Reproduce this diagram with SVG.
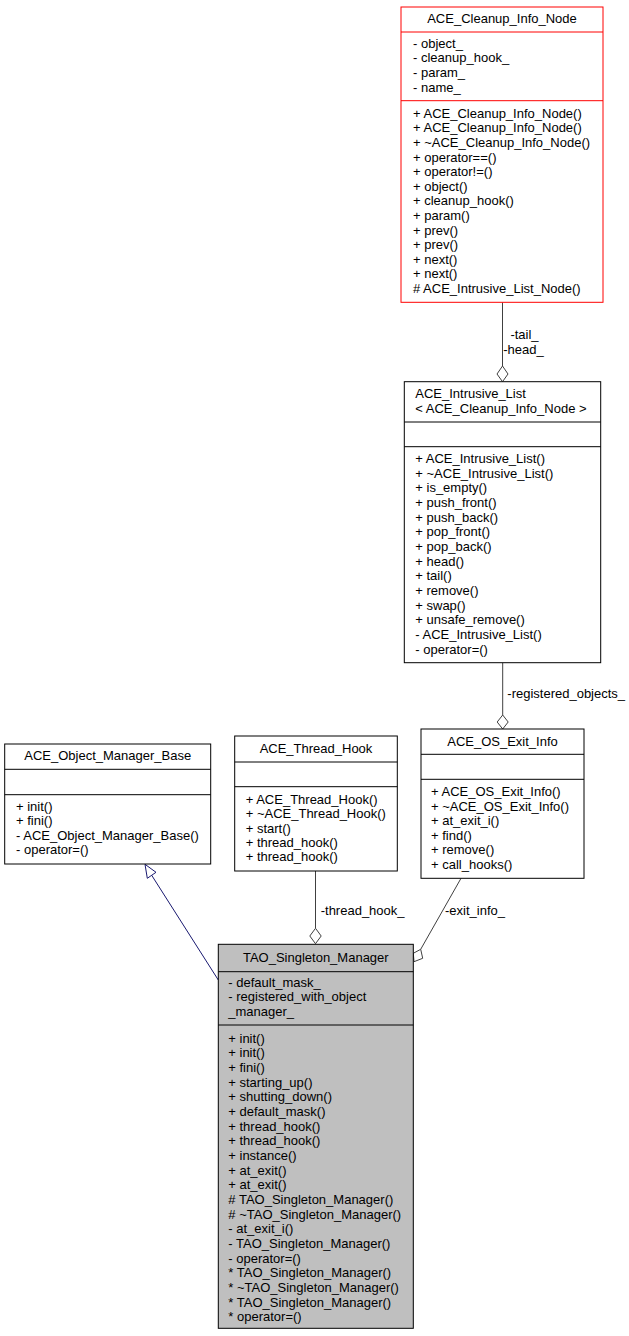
<svg xmlns="http://www.w3.org/2000/svg" width="629" height="1336" viewBox="0 0 629 1336">
<style>
text{font-family:"Liberation Sans",Arial,sans-serif;font-size:13px;fill:#000}
.t{text-anchor:middle}
.box{fill:#fff;stroke:#000;stroke-width:1}
.div{stroke:#000;stroke-width:1}
.red .box,.red .div{stroke:#ff0000}
.cur .box{fill:#bfbfbf}
.e{fill:none;stroke:#404040;stroke-width:1}
.ah{fill:#fff;stroke:#404040;stroke-width:1}
.inh{fill:none;stroke:#191970;stroke-width:1}
.inha{fill:#fff;stroke:#191970;stroke-width:1}
</style>
<rect width="629" height="1336" fill="#fff"/>
<g id="edges">
<line class="e" x1="502.5" y1="302.3" x2="502.5" y2="366"/>
<polygon class="ah" points="502.5,366 508,374 502.5,381.7 497,374"/>
<text x="524.5" y="338.8" class="t">-tail_</text>
<text x="523.5" y="353.5" class="t">-head_</text>
<line class="e" x1="502.7" y1="662.7" x2="502.7" y2="715"/>
<polygon class="ah" points="502.7,715 508.2,722 502.7,729 497.2,722"/>
<text x="507.3" y="697.8">-registered_objects_</text>
<line class="e" x1="315.5" y1="871" x2="315.5" y2="928.3"/>
<polygon class="ah" points="315.5,928.3 321.2,936 315.5,943.7 309.8,936"/>
<text x="320.7" y="915.2">-thread_hook_</text>
<line class="e" x1="461" y1="878.3" x2="420.7" y2="949.3"/>
<polygon class="ah" points="420.7,949.3 422.7,958.3 414,961.7 413.3,953.3"/>
<text x="445" y="915.2">-exit_info_</text>
<line class="inh" x1="218.3" y1="980" x2="151.7" y2="875.3"/>
<polygon class="inha" points="145,864.3 147.3,878.3 156,872.3"/>
</g>
<g id="ACE_Cleanup_Info_Node" class="red">
<rect class="box" x="401" y="7" width="202" height="295.3"/>
<line class="div" x1="401" y1="32" x2="603" y2="32"/>
<line class="div" x1="401" y1="100.7" x2="603" y2="100.7"/>
<text x="502" y="22.8" class="t">ACE_Cleanup_Info_Node</text>
<text x="413"><tspan x="413" y="47.8">- object_</tspan><tspan x="413" y="62.4">- cleanup_hook_</tspan><tspan x="413" y="77">- param_</tspan><tspan x="413" y="91.6">- name_</tspan></text>
<text x="413"><tspan x="413" y="117.8">+ ACE_Cleanup_Info_Node()</tspan><tspan x="413" y="132.4">+ ACE_Cleanup_Info_Node()</tspan><tspan x="413" y="147">+ ~ACE_Cleanup_Info_Node()</tspan><tspan x="413" y="161.6">+ operator==()</tspan><tspan x="413" y="176.2">+ operator!=()</tspan><tspan x="413" y="190.8">+ object()</tspan><tspan x="413" y="205.4">+ cleanup_hook()</tspan><tspan x="413" y="220">+ param()</tspan><tspan x="413" y="234.6">+ prev()</tspan><tspan x="413" y="249.2">+ prev()</tspan><tspan x="413" y="263.8">+ next()</tspan><tspan x="413" y="278.4">+ next()</tspan><tspan x="413" y="293">#  ACE_Intrusive_List_Node()</tspan></text>
</g>
<g id="ACE_Intrusive_List">
<rect class="box" x="404.3" y="381.7" width="196.4" height="281"/>
<line class="div" x1="404.3" y1="422" x2="600.7" y2="422"/>
<line class="div" x1="404.3" y1="446.7" x2="600.7" y2="446.7"/>
<text x="415.3"><tspan x="415.3" y="397.8">ACE_Intrusive_List</tspan><tspan x="415.3" y="412.8">&lt; ACE_Cleanup_Info_Node &gt;</tspan></text>
<text x="415.3"><tspan x="415.3" y="462.8">+ ACE_Intrusive_List()</tspan><tspan x="415.3" y="477.5">+ ~ACE_Intrusive_List()</tspan><tspan x="415.3" y="492.2">+ is_empty()</tspan><tspan x="415.3" y="506.9">+ push_front()</tspan><tspan x="415.3" y="521.6">+ push_back()</tspan><tspan x="415.3" y="536.2">+ pop_front()</tspan><tspan x="415.3" y="550.9">+ pop_back()</tspan><tspan x="415.3" y="565.6">+ head()</tspan><tspan x="415.3" y="580.3">+ tail()</tspan><tspan x="415.3" y="595">+ remove()</tspan><tspan x="415.3" y="609.7">+ swap()</tspan><tspan x="415.3" y="624.4">+ unsafe_remove()</tspan><tspan x="415.3" y="639.1">- ACE_Intrusive_List()</tspan><tspan x="415.3" y="653.8">- operator=()</tspan></text>
</g>
<g id="ACE_Object_Manager_Base">
<rect class="box" x="4.7" y="744" width="206" height="120"/>
<line class="div" x1="4.7" y1="769.3" x2="210.7" y2="769.3"/>
<line class="div" x1="4.7" y1="794.7" x2="210.7" y2="794.7"/>
<text x="107.7" y="759.5" class="t">ACE_Object_Manager_Base</text>
<text x="16"><tspan x="16" y="810.5">+ init()</tspan><tspan x="16" y="825.1">+ fini()</tspan><tspan x="16" y="839.8">- ACE_Object_Manager_Base()</tspan><tspan x="16" y="854.4">- operator=()</tspan></text>
</g>
<g id="ACE_Thread_Hook">
<rect class="box" x="234.7" y="736" width="162.6" height="135"/>
<line class="div" x1="234.7" y1="762" x2="397.3" y2="762"/>
<line class="div" x1="234.7" y1="786.7" x2="397.3" y2="786.7"/>
<text x="316" y="753.2" class="t">ACE_Thread_Hook</text>
<text x="245.7"><tspan x="245.7" y="803.8">+ ACE_Thread_Hook()</tspan><tspan x="245.7" y="818.2">+ ~ACE_Thread_Hook()</tspan><tspan x="245.7" y="832.6">+ start()</tspan><tspan x="245.7" y="847">+ thread_hook()</tspan><tspan x="245.7" y="861.4">+ thread_hook()</tspan></text>
</g>
<g id="ACE_OS_Exit_Info">
<rect class="box" x="421" y="729" width="163" height="149.3"/>
<line class="div" x1="421" y1="754.3" x2="584" y2="754.3"/>
<line class="div" x1="421" y1="779.3" x2="584" y2="779.3"/>
<text x="502.5" y="745.5" class="t">ACE_OS_Exit_Info</text>
<text x="431"><tspan x="431" y="796.2">+ ACE_OS_Exit_Info()</tspan><tspan x="431" y="810.7">+ ~ACE_OS_Exit_Info()</tspan><tspan x="431" y="825.1">+ at_exit_i()</tspan><tspan x="431" y="839.6">+ find()</tspan><tspan x="431" y="854.1">+ remove()</tspan><tspan x="431" y="868.6">+ call_hooks()</tspan></text>
</g>
<g id="TAO_Singleton_Manager" class="cur">
<rect class="box" x="218.3" y="944.3" width="195" height="384"/>
<line class="div" x1="218.3" y1="971.7" x2="413.3" y2="971.7"/>
<line class="div" x1="218.3" y1="1025" x2="413.3" y2="1025"/>
<text x="315.8" y="961.8" class="t">TAO_Singleton_Manager</text>
<text x="228.3"><tspan x="228.3" y="986.8">- default_mask_</tspan><tspan x="228.3" y="1001.3">- registered_with_object</tspan><tspan x="228.3" y="1015.8">_manager_</tspan></text>
<text x="228.3"><tspan x="228.3" y="1042.8">+ init()</tspan><tspan x="228.3" y="1057.45">+ init()</tspan><tspan x="228.3" y="1072.1">+ fini()</tspan><tspan x="228.3" y="1086.75">+ starting_up()</tspan><tspan x="228.3" y="1101.4">+ shutting_down()</tspan><tspan x="228.3" y="1116.05">+ default_mask()</tspan><tspan x="228.3" y="1130.7">+ thread_hook()</tspan><tspan x="228.3" y="1145.35">+ thread_hook()</tspan><tspan x="228.3" y="1160">+ instance()</tspan><tspan x="228.3" y="1174.65">+ at_exit()</tspan><tspan x="228.3" y="1189.3">+ at_exit()</tspan><tspan x="228.3" y="1203.95"># TAO_Singleton_Manager()</tspan><tspan x="228.3" y="1218.6"># ~TAO_Singleton_Manager()</tspan><tspan x="228.3" y="1233.25">- at_exit_i()</tspan><tspan x="228.3" y="1247.9">- TAO_Singleton_Manager()</tspan><tspan x="228.3" y="1262.55">- operator=()</tspan><tspan x="228.3" y="1277.2">* TAO_Singleton_Manager()</tspan><tspan x="228.3" y="1291.85">* ~TAO_Singleton_Manager()</tspan><tspan x="228.3" y="1306.5">* TAO_Singleton_Manager()</tspan><tspan x="228.3" y="1321.15">* operator=()</tspan></text>
</g>
</svg>
